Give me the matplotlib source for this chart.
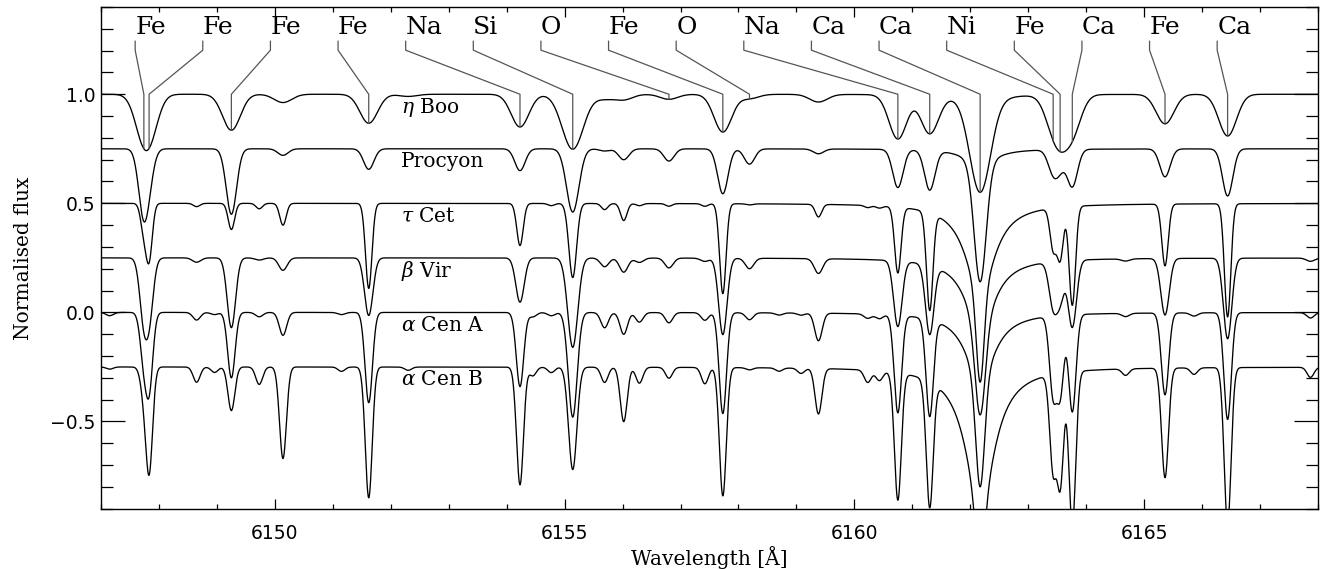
import numpy as np
import matplotlib
matplotlib.use("Agg")
import matplotlib.pyplot as plt
from matplotlib.ticker import MultipleLocator

plt.rcParams["mathtext.fontset"] = "dejavuserif"

# absorption features seen in the spectra (Angstrom)
line_wave = [6147.15, 6147.74, 6147.83, 6148.65, 6148.96, 6149.25, 6149.73, 6150.14,
             6151.15, 6151.62, 6152.30, 6154.23, 6154.45, 6154.77, 6155.14, 6155.69,
             6156.02, 6156.29, 6156.80, 6157.42, 6157.73, 6158.19, 6158.70, 6159.08,
             6159.38, 6160.23, 6160.43, 6160.75, 6161.30, 6162.17, 6163.43, 6163.55,
             6163.76, 6164.68, 6165.36, 6165.86, 6166.44, 6167.87]
line_wscale = [1.0] * len(line_wave)
line_wscale[14] = 1.2    # Si
line_wscale[29] = 1.15   # strong Ca 6162
ca_strong = 29

# central line depths
eta_boo = [0, .15, .14, 0, 0, .165, 0, .038, 0, .133, .01, .15, 0, 0, .252, .02, .025, 0, .023,
           0, .173, .02, 0, 0, .035, 0, 0, .203, .176, .45, .10, .15, .16, 0, .135, 0, .191, 0]
procyon = [0, .30, .08, 0, 0, .30, 0, .03, 0, .094, 0, .10, 0, 0, .29, .01, .05, 0, .056,
           0, .206, .07, 0, 0, .022, 0, 0, .175, .183, .61, .10, .07, .17, 0, .128, 0, .216, 0]
tau_cet = [0, .12, .25, .015, 0, .12, .025, .10, 0, .39, 0, .193, 0, .01, .34, .028, .078, .01, .012,
           .012, .413, .005, 0, 0, .058, .01, .01, .307, .468, .82, .19, .24, .46, 0, .284, 0, .52, 0]
beta_vir = [0, .26, .25, .02, 0, .32, .01, .057, 0, .264, 0, .203, 0, 0, .41, .04, .065, .02, .045,
            .015, .351, .048, 0, 0, .068, 0, 0, .305, .328, .72, .20, .17, .31, .01, .26, 0, .37, .015]
alf_cen_a = [.015, .20, .34, .035, .01, .30, .02, .105, .01, .414, 0, .34, .02, .015, .48, .07, .10, .044, .047,
             .035, .463, .032, .01, .01, .127, .02, .02, .453, .46, .80, .36, .36, .45, .015, .376, .015, .49, .025]
alf_cen_b = [.01, .10, .48, .07, .025, .20, .08, .42, .02, .60, .015, .54, .04, .025, .47, .07, .25, .073, .05,
             .075, .59, .01, .015, .024, .21, .057, .045, .60, .62, .90, .45, .53, .72, .03, .505, .03, .72, .046]

star_names = [r"$\eta$ Boo", "Procyon", r"$\tau$ Cet", r"$\beta$ Vir", r"$\alpha$ Cen A", r"$\alpha$ Cen B"]
star_depths = [eta_boo, procyon, tau_cet, beta_vir, alf_cen_a, alf_cen_b]
star_offset = [1.0, 0.75, 0.5, 0.25, 0.0, -0.25]
star_fwhm = [0.36, 0.21, 0.13, 0.17, 0.15, 0.14]
star_ca_wing = [0.06, 0.08, 0.42, 0.34, 0.32, 0.65]
ca_gamma = 0.30

marker_wave = [6147.74, 6147.83, 6149.25, 6151.62, 6154.23, 6155.14, 6156.80, 6157.73, 6158.19,
               6160.75, 6161.30, 6162.17, 6163.43, 6163.55, 6163.76, 6165.36, 6166.44]
marker_elem = ["Fe", "Fe", "Fe", "Fe", "Na", "Si", "O", "Fe", "O",
               "Na", "Ca", "Ca", "Ni", "Fe", "Ca", "Fe", "Ca"]


def spectrum(wave, depths, fwhm, wing):
    sig = fwhm / 2.3548
    flux = np.ones_like(wave)
    for lam, d, k in zip(line_wave, depths, line_wscale):
        if d <= 0:
            continue
        g = np.exp(-0.5 * ((wave - lam) / (sig * k)) ** 2)
        if lam == line_wave[ca_strong]:
            lor = ca_gamma ** 2 / (ca_gamma ** 2 + (wave - lam) ** 2)
            flux *= 1 - wing * lor
            d = 1 - (1 - d) / (1 - wing)
        flux *= 1 - d * g
    return flux


wave = np.linspace(6147.0, 6168.0, 6000)

fig = plt.figure(figsize=(13.2, 5.69), dpi=100)
ax = fig.add_axes([0.0765, 0.106, 0.922, 0.8817])

eta_flux = None
for name, dep, off, fw, wg in zip(star_names, star_depths, star_offset, star_fwhm, star_ca_wing):
    f = spectrum(wave, dep, fw, wg) - 1 + off
    if eta_flux is None:
        eta_flux = f
    ax.plot(wave, f, color="black", lw=0.95)
    ax.text(6152.17, off - 0.06, name, fontsize=14.5, family="DejaVu Serif",
            ha="left", va="center")

# element markers
lab_x = np.linspace(6147.59, 6166.26, len(marker_wave))
for lx, lw_, el in zip(lab_x, marker_wave, marker_elem):
    yspec = np.interp(lw_, wave, eta_flux)
    ytop = max(1.0, yspec)
    ax.plot([lx, lx, lw_, lw_], [1.243, 1.202, ytop, yspec], color="#555555", lw=0.9)
    ax.text(lx, 1.275, el, fontsize=18, family="DejaVu Serif", ha="left", va="baseline")

ax.set_xlim(6147, 6168)
ax.set_ylim(-0.9, 1.4)
ax.xaxis.set_major_locator(MultipleLocator(5))
ax.xaxis.set_minor_locator(MultipleLocator(1))
ax.yaxis.set_major_locator(MultipleLocator(0.5))
ax.yaxis.set_minor_locator(MultipleLocator(0.1))
ax.tick_params(axis="both", which="both", direction="in", top=True, right=True, width=0.9)
ax.tick_params(axis="x", which="major", length=7.5, pad=11, labelsize=13.5)
ax.tick_params(axis="x", which="minor", length=3.8)
ax.tick_params(axis="y", which="major", length=17, pad=4, labelsize=13.5)
ax.tick_params(axis="y", which="minor", length=8.5)
for sp in ax.spines.values():
    sp.set_linewidth(1.0)

ax.set_xlabel("Wavelength [Å]", fontsize=14.5, family="DejaVu Serif", labelpad=2)
ax.set_ylabel("Normalised flux", fontsize=14.5, family="DejaVu Serif", labelpad=12)

fig.savefig("out.png", dpi=100)
